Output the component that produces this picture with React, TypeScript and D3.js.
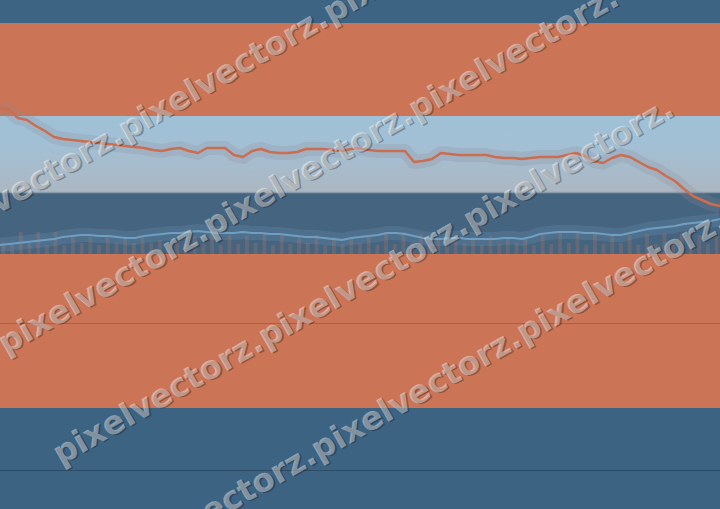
import React from "react";
import * as d3 from "d3";

const W = 720;
const H = 509;

// price-like series (value units; 1 unit = 1 px above the baseline)
const orangeSeries = [
  146, 144, 136, 134, 128, 123, 117, 115, 114, 113,
  112, 111, 110, 109, 108, 107, 106, 104, 103, 105,
  106, 103, 101, 106, 106, 106, 99, 97, 103, 105,
  102, 101, 101, 102, 105, 105, 105, 104, 103, 105,
  106, 104, 103, 103, 103, 103, 92, 93, 95, 101,
  100, 99, 99, 99, 99, 97, 96, 96, 95, 96,
  97, 97, 97, 99, 101, 98, 93, 91, 96, 99,
  97, 92, 87, 84, 78, 73, 65, 58, 54, 50,
  48,
];

const blueSeries = [
  9, 10, 11, 12, 13, 14, 15, 17, 18, 19,
  19, 18, 18, 17, 16, 16, 18, 19, 20, 21,
  21, 22, 23, 22, 21, 21, 21, 22, 21, 21,
  20, 20, 19, 18, 17, 17, 16, 15, 14, 16,
  17, 18, 19, 21, 21, 20, 18, 16, 15, 15,
  16, 16, 15, 15, 15, 15, 16, 16, 15, 17,
  20, 21, 22, 22, 22, 21, 21, 20, 19, 19,
  21, 23, 25, 26, 27, 28, 30, 31, 32, 33,
  35,
];

const volumeBars = [
  12, 11, 22, 11, 22, 9, 22, 9, 19, 11,
  17, 9, 17, 11, 16, 11, 16, 11, 14, 9,
  12, 10, 18, 10, 20, 9, 19, 10, 18, 11,
  20, 9, 18, 10, 17, 11, 19, 9, 17, 10,
  16, 11, 18, 9, 22, 10, 22, 11, 20, 9,
  18, 10, 19, 11, 17, 9, 18, 10, 16, 11,
  17, 9, 19, 10, 22, 11, 22, 9, 20, 10,
  18, 11, 19, 9, 20, 10, 21, 11, 20, 9,
  19, 10, 18,
];

const watermarkWord = "pixelvectorz.";

export default function App() {
  const x = d3.scaleLinear().domain([0, orangeSeries.length - 1]).range([0, W]);
  const y = d3.scaleLinear().domain([0, 150]).range([254, 104]);
  const xb = d3
    .scaleBand<number>()
    .domain(d3.range(volumeBars.length))
    .range([-1, W + 1])
    .paddingInner(0.55)
    .paddingOuter(0.275);

  const line = d3
    .line<number>()
    .x((_, i) => x(i))
    .y((d) => y(d));

  const wmRows = [
    { b: 200, x0: -85 },
    { b: 345, x0: 0 },
    { b: 487, x0: 55 },
    { b: 630, x0: 108 },
  ];
  const angle = -29.7;
  const slope = Math.tan((angle * Math.PI) / 180);
  const wmText = watermarkWord + watermarkWord + watermarkWord;

  return (
    <div style={{ position: "fixed", left: 0, top: 0, width: W, height: H }}>
      <svg width={W} height={H} style={{ display: "block" }}>
        <defs>
          <linearGradient id="lightBand" x1="0" y1="0" x2="0" y2="1">
            <stop offset="0" stopColor="#a0c0d7" />
            <stop offset="0.35" stopColor="#a2c0d5" />
            <stop offset="1" stopColor="#acb7c2" />
          </linearGradient>
        </defs>
        <rect x={0} y={0} width={W} height={23} fill="#3e6483" />
        <rect x={0} y={23} width={W} height={93} fill="#cc7456" />
        <rect x={0} y={116} width={W} height={76} fill="url(#lightBand)" />
        <rect x={0} y={192} width={W} height={62} fill="#45647f" />
        <line x1={0} x2={W} y1={192.5} y2={192.5} stroke="#8a9bab" strokeWidth={1.5} />
        <rect x={0} y={254} width={W} height={154} fill="#cc7456" />
        <line x1={0} x2={W} y1={323.5} y2={323.5} stroke="#ae5f48" strokeWidth={1} />
        <rect x={0} y={408} width={W} height={101} fill="#3d6383" />
        <line x1={0} x2={W} y1={470.5} y2={470.5} stroke="#2e4b63" strokeWidth={1} />

        <g>
          {volumeBars.map((v, i) => (
            <rect
              key={i}
              x={xb(i)}
              y={y(v)}
              width={xb.bandwidth()}
              height={y(0) - y(v)}
              fill="#c87456"
              fillOpacity={0.25}
            />
          ))}
        </g>

        <path d={line(blueSeries) || ""} fill="none" stroke="#7aa6c8" strokeOpacity={0.18} strokeWidth={14} strokeLinejoin="round" />
        <path d={line(blueSeries) || ""} fill="none" stroke="#6f9ec2" strokeWidth={2} strokeLinejoin="round" />

        <path d={line(orangeSeries) || ""} fill="none" stroke="#8c8a95" strokeOpacity={0.22} strokeWidth={14} strokeLinejoin="round" />
        <path d={line(orangeSeries) || ""} fill="none" stroke="#cb6d4f" strokeWidth={2.5} strokeLinejoin="round" />

        <g fontFamily="'DejaVu Sans', sans-serif" fontWeight="bold" fontSize={32.5}>
          {wmRows.map((r, i) => {
            const ty = r.b + slope * r.x0;
            return (
              <g key={i} transform={`translate(${r.x0},${ty}) rotate(${angle})`}>
                <text x={1.2} y={1.6} dy="0.35em" fill="#000" fillOpacity={0.28}>
                  {wmText}
                </text>
                <text x={0} y={0} dy="0.35em" fill="#fff" fillOpacity={0.42}>
                  {wmText}
                </text>
              </g>
            );
          })}
        </g>
      </svg>
    </div>
  );
}
